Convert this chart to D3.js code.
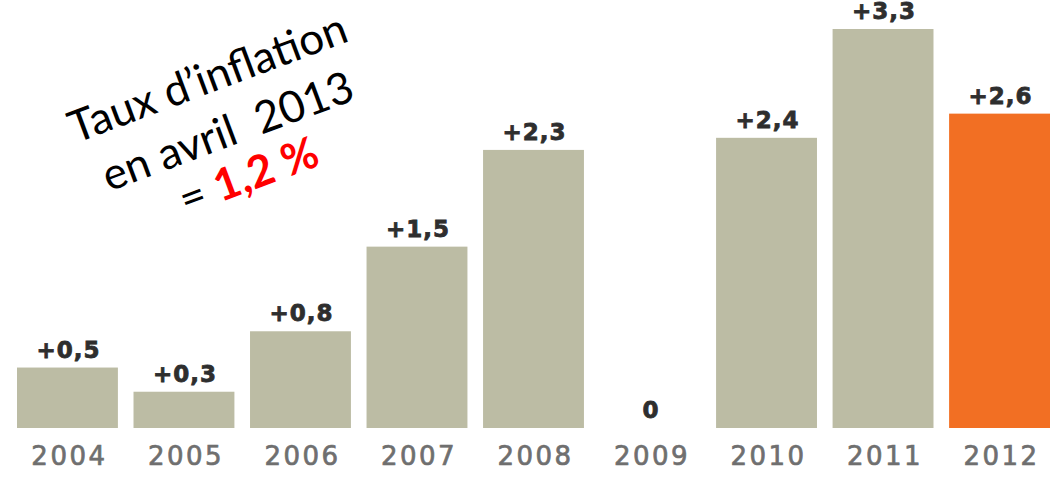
<!DOCTYPE html>
<html>
<head>
<meta charset="utf-8">
<script src="https://cdn.jsdelivr.net/npm/d3@7"></script>
<style>
  body { margin: 0; background: #fff; }
</style>
</head>
<body>
<script>
// Data
const years  = ['2004', '2005', '2006', '2007', '2008', '2009', '2010', '2011', '2012']
const values = [0.5, 0.3, 0.8, 1.5, 2.3, 0, 2.4, 3.3, 2.6]
const labels = ['+0,5', '+0,3', '+0,8', '+1,5', '+2,3', '0', '+2,4', '+3,3', '+2,6']
const note   = ['Taux d\u2019inflation', 'en avril  2013']
const noteEq = '= '
const noteValue = '1,2 %'

// Size
var width  = 1051
var height = 478

let svg = d3.select('body')
            .append('svg')
            .attr('width', width)
            .attr('height', height)

// Scales
var x = d3.scaleBand()
          .domain(years)
          .range([17, 1050])
          .paddingInner(0.134)
          .paddingOuter(0)
var y = d3.scaleLinear()
          .domain([0, 3.3])
          .range([428, 29])

// Bars
svg.append('g')
   .selectAll('rect')
   .data(values)
   .enter()
   .append('rect')
   .attr('x', (d, i) => x(years[i]))
   .attr('y', d => y(d))
   .attr('width', x.bandwidth())
   .attr('height', d => y(0) - y(d))
   .attr('fill', (d, i) => i === years.length - 1 ? '#f26f23' : '#bcbca4')

// Value labels
svg.append('g')
   .selectAll('text')
   .data(values)
   .enter()
   .append('text')
   .attr('x', (d, i) => x(years[i]) + x.bandwidth() / 2 + 1)
   .attr('y', d => y(d) - 10)
   .attr('text-anchor', 'middle')
   .attr('font-family', 'DejaVu Sans')
   .attr('font-weight', 'bold')
   .attr('font-size', 23)
   .attr('letter-spacing', 1)
   .attr('fill', '#2e2e2e')
   .attr('stroke', '#2e2e2e')
   .attr('stroke-width', 0.8)
   .text((d, i) => labels[i])

// Year axis (no line)
let axis = svg.append('g')
              .attr('transform', 'translate(0,' + 447 + ')')
              .call(d3.axisBottom(x).tickSize(0).tickPadding(0))
axis.select('.domain').remove()
axis.selectAll('text')
    .attr('dy', '0.71em')
    .attr('dx', 2)
    .attr('font-family', 'DejaVu Sans')
    .attr('font-size', 26)
    .attr('letter-spacing', 2.5)
    .attr('fill', '#6f6f6f')
    .attr('stroke', '#6f6f6f')
    .attr('stroke-width', 0.7)

// Rotated note
let g = svg.append('g')
           .attr('transform', 'translate(213,92) rotate(-20.5)')
g.selectAll('text.line')
 .data(note)
 .enter()
 .append('text')
 .attr('class', 'line')
 .attr('x', 0)
 .attr('y', (d, i) => i * 57)
 .attr('text-anchor', 'middle')
 .attr('font-family', 'Lato')
 .attr('font-size', 44)
 .attr('fill', '#000')
 .style('white-space', 'pre')
 .text(d => d)
let eq = g.append('text')
          .attr('x', 4)
          .attr('y', 106)
          .attr('text-anchor', 'middle')
          .attr('font-family', 'Lato')
          .attr('font-size', 44)
          .style('white-space', 'pre')
eq.append('tspan').attr('fill', '#000').text(noteEq)
eq.append('tspan').attr('fill', '#ff0000').attr('font-weight', 'bold').text(noteValue)
</script>
</body>
</html>
